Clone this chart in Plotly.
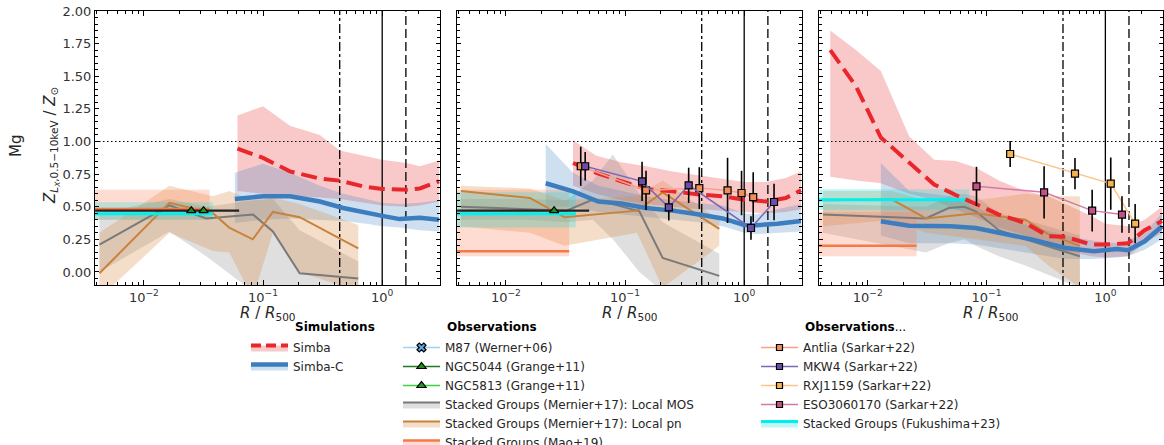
import plotly.graph_objects as go

W, H = 1164, 445

# ---------------- data ----------------
# Simba (median + band), one list per panel
simba_r = [
    [0.061, 0.10, 0.168, 0.30, 0.44, 0.69, 1.0, 1.6, 2.07, 3.0],
    [0.0366, 0.0574, 0.093, 0.150, 0.25, 0.42, 0.66, 1.0, 1.52, 2.23, 3.0],
    [0.00484, 0.008, 0.0129, 0.0223, 0.0362, 0.055, 0.081, 0.127, 0.212, 0.332, 0.46, 0.76, 1.0, 1.55, 2.14, 3.0],
]
simba_med = [
    [0.945, 0.874, 0.771, 0.715, 0.70, 0.656, 0.636, 0.63, 0.64, 0.695],
    [0.835, 0.76, 0.695, 0.636, 0.618, 0.593, 0.58, 0.554, 0.54, 0.567, 0.626],
    [1.70, 1.42, 1.03, 0.835, 0.67, 0.59, 0.524, 0.44, 0.375, 0.273, 0.27, 0.21, 0.21, 0.22, 0.32, 0.39],
]
simba_hi = [
    [1.20, 1.27, 1.12, 1.05, 0.93, 0.89, 0.86, 0.835, 0.81, 0.855],
    [1.01, 0.89, 0.84, 0.81, 0.77, 0.74, 0.71, 0.69, 0.69, 0.72, 0.77],
    [1.85, 1.70, 1.54, 1.04, 0.86, 0.85, 0.80, 0.70, 0.62, 0.58, 0.52, 0.43, 0.37, 0.35, 0.40, 0.50],
]
simba_lo = [
    [0.62, 0.60, 0.58, 0.57, 0.56, 0.53, 0.51, 0.50, 0.51, 0.54],
    [0.66, 0.60, 0.55, 0.52, 0.50, 0.48, 0.47, 0.46, 0.45, 0.46, 0.48],
    [0.73, 0.70, 0.68, 0.60, 0.55, 0.48, 0.42, 0.34, 0.28, 0.21, 0.16, 0.12, 0.11, 0.12, 0.22, 0.30],
]

# Simba-C
simbac_r = [
    [0.058, 0.10, 0.168, 0.30, 0.47, 0.74, 1.0, 1.4, 2.07, 3.0],
    [0.0216, 0.0366, 0.0598, 0.093, 0.15, 0.25, 0.42, 0.66, 1.0, 1.25, 1.9, 3.0],
    [0.0129, 0.0223, 0.05, 0.081, 0.127, 0.24, 0.46, 0.8, 1.25, 1.55, 2.14, 3.0],
]
simbac_med = [
    [0.56, 0.58, 0.58, 0.54, 0.49, 0.45, 0.43, 0.405, 0.415, 0.40],
    [0.68, 0.618, 0.54, 0.524, 0.49, 0.47, 0.44, 0.41, 0.36, 0.358, 0.37, 0.39],
    [0.388, 0.355, 0.35, 0.337, 0.30, 0.25, 0.184, 0.158, 0.176, 0.166, 0.235, 0.35],
]
simbac_hi = [
    [0.76, 0.83, 0.76, 0.66, 0.60, 0.56, 0.53, 0.52, 0.53, 0.55],
    [0.98, 0.76, 0.66, 0.62, 0.58, 0.55, 0.53, 0.51, 0.45, 0.44, 0.48, 0.52],
    [0.835, 0.62, 0.58, 0.50, 0.42, 0.35, 0.28, 0.24, 0.22, 0.24, 0.30, 0.45],
]
simbac_lo = [
    [0.375, 0.40, 0.41, 0.40, 0.39, 0.37, 0.35, 0.34, 0.32, 0.31],
    [0.50, 0.50, 0.46, 0.44, 0.42, 0.40, 0.38, 0.35, 0.30, 0.29, 0.30, 0.31],
    [0.28, 0.22, 0.22, 0.21, 0.18, 0.14, 0.10, 0.10, 0.11, 0.12, 0.17, 0.25],
]

# Stacked Groups (Mernier+17): Local MOS
mos_r = [
    [0.00424, 0.0164, 0.0334, 0.0824, 0.121, 0.203, 0.63],
    [0.0042, 0.0159, 0.0322, 0.0538, 0.079, 0.132, 0.207, 0.618],
    [0.0042, 0.0308, 0.048, 0.065, 0.081, 0.127, 0.212, 0.61],
]
mos_med = [
    [0.21, 0.51, 0.41, 0.44, 0.31, -0.01, -0.05],
    [0.50, 0.48, 0.47, 0.555, 0.52, 0.465, 0.107, -0.03],
    [0.44, 0.41, 0.49, 0.50, 0.465, 0.32, 0.25, 0.12],
]
mos_hi = [
    [0.45, 0.56, 0.50, 0.55, 0.56, 0.32, 0.08],
    [0.56, 0.56, 0.55, 0.70, 0.90, 0.60, 0.38, 0.14],
    [0.52, 0.50, 0.58, 0.60, 0.58, 0.45, 0.40, 0.28],
]
mos_lo = [
    [0.0, 0.31, 0.12, -0.15, -0.15, -0.2, -0.2],
    [0.40, 0.40, 0.38, 0.40, 0.25, 0.0, -0.15, -0.2],
    [0.30, 0.15, 0.22, 0.25, 0.20, 0.12, 0.05, -0.12],
]

# Stacked Groups (Mernier+17): Local pn
pn_r = [
    [0.00424, 0.0164, 0.038, 0.052, 0.082, 0.121, 0.203, 0.63],
    [0.0042, 0.0159, 0.031, 0.126, 0.207, 0.618],
    [0.0042, 0.016, 0.031, 0.081, 0.212, 0.33, 0.61],
]
pn_med = [
    [-0.01, 0.53, 0.45, 0.34, 0.25, 0.46, 0.42, 0.18],
    [0.62, 0.567, 0.42, 0.47, 0.61, 0.33],
    [0.55, 0.555, 0.41, 0.45, 0.40, 0.29, 0.20],
]
pn_hi = [
    [0.30, 0.66, 0.58, 0.62, 0.55, 0.57, 0.52, 0.36],
    [0.66, 0.64, 0.55, 0.58, 0.70, 0.40],
    [0.62, 0.62, 0.55, 0.55, 0.60, 0.58, 0.58],
]
pn_lo = [
    [-0.2, 0.30, 0.16, 0.15, -0.2, 0.30, 0.0, -0.15],
    [0.35, 0.30, 0.20, 0.30, -0.12, 0.20],
    [0.35, 0.40, 0.30, 0.25, 0.20, 0.05, -0.12],
]

# Stacked Groups (Mao+19): constant value over a radial range
mao_r = [[0.0035, 0.0356], [0.0035, 0.034], [0.0035, 0.0258]]
mao_val = [0.483, 0.158, 0.20]
mao_lo = [0.40, 0.12, 0.12]
mao_hi = [0.63, 0.63, 0.46]

# Stacked Groups (Fukushima+23)
fuku_r = [[0.0035, 0.038], [0.0035, 0.0386], [0.0035, 0.0716]]
fuku_val = [0.447, 0.447, 0.554]
fuku_lo = [0.40, 0.34, 0.477]
fuku_hi = [0.535, 0.61, 0.634]

# Grange+11 (panel index, r, value, r_min, r_max)
ngc5044_panel = [0, 1]
ngc5044_r = [0.025, 0.0254]
ngc5044_z = [0.47, 0.47]
ngc5044_rmin = [0.0039, 0.0039]
ngc5044_rmax = [0.063, 0.050]
ngc5813_panel = [0]
ngc5813_r = [0.0317]
ngc5813_z = [0.47]

# Sarkar+22
antlia_r = [0.0425, 0.15, 0.42, 0.725, 0.95, 1.19]
antlia_z = [0.81, 0.625, 0.643, 0.625, 0.605, 0.574]
antlia_err = [0.15, 0.15, 0.16, 0.25, 0.17, 0.19]
mkw4_r = [0.0463, 0.139, 0.233, 0.342, 1.14, 1.78]
mkw4_z = [0.81, 0.694, 0.495, 0.664, 0.337, 0.536]
mkw4_err = [0.11, 0.15, 0.10, 0.135, 0.09, 0.14]
rxj_r = [0.158, 0.555, 1.11, 1.78]
rxj_z = [0.904, 0.754, 0.677, 0.37]
rxj_err = [0.10, 0.12, 0.20, 0.15]
eso_r = [0.0823, 0.305, 0.774, 1.38]
eso_z = [0.656, 0.61, 0.47, 0.44]
eso_err = [0.15, 0.20, 0.16, 0.14]

# reference radii (dash-dot, solid, dashed) and solar level
ref_r = [0.44, 1.0, 1.58]
ref_dash = ["dashdot", "solid", "9px,4px"]
solar_level = 1.0

x_tickvals = [0.01, 0.1, 1.0]
x_ticktext = ["10<sup>\u22122</sup>", "10<sup>\u22121</sup>", "10<sup>0</sup>"]
y_tickvals = [0.0, 0.25, 0.5, 0.75, 1.0, 1.25, 1.5, 1.75, 2.0]

# ---------------- styles ----------------
C_SIMBA, F_SIMBA = "#e8262b", "rgba(232,60,66,0.28)"
C_SIMBAC, F_SIMBAC = "#3b7dbf", "rgba(60,126,191,0.25)"
C_MOS, F_MOS = "#7a7a7a", "rgba(128,128,128,0.25)"
C_PN, F_PN = "#c8823c", "rgba(218,138,62,0.28)"
C_MAO, F_MAO = "#f47a4a", "rgba(250,128,90,0.28)"
C_FUKU, F_FUKU = "#00f0f0", "rgba(0,225,225,0.25)"
FONT = "DejaVu Sans"

panel_px = [(95, 440), (457, 802), (819, 1163)]
top_px, bot_px = 11, 285
XR = [-2.41, 0.485]
YR = [-0.1, 2.0]

fig = go.Figure()


def axn(i):
    return ("x", "y") if i == 0 else (f"x{i+1}", f"y{i+1}")


def band(i, r, lo, hi, fc):
    xa, ya = axn(i)
    fig.add_trace(go.Scatter(x=list(r) + list(r)[::-1], y=list(hi) + list(lo)[::-1],
                             fill="toself", fillcolor=fc, mode="lines", line=dict(width=0),
                             hoverinfo="skip", showlegend=False, xaxis=xa, yaxis=ya))


def line(i, r, y, color, width, dash="solid"):
    xa, ya = axn(i)
    fig.add_trace(go.Scatter(x=r, y=y, mode="lines", line=dict(color=color, width=width, dash=dash),
                             hoverinfo="skip", showlegend=False, xaxis=xa, yaxis=ya))


def points(i, r, y, err, lcolor, mcolor, symbol="square", size=7, errx=None):
    xa, ya = axn(i)
    kw = {}
    if err is not None:
        kw["error_y"] = dict(type="data", array=err, color="black", thickness=1.6, width=0)
    if errx is not None:
        kw["error_x"] = dict(type="data", array=errx[1], arrayminus=errx[0], color="#222222",
                             thickness=2.2, width=0, symmetric=False)
    fig.add_trace(go.Scatter(x=r, y=y, mode="lines+markers",
                             line=dict(color=lcolor, width=1.5),
                             marker=dict(symbol=symbol, size=size, color=mcolor,
                                         line=dict(color="black", width=1.2)),
                             hoverinfo="skip", showlegend=False, xaxis=xa, yaxis=ya, **kw))


for i in range(3):
    xa, ya = axn(i)
    # bands
    band(i, simba_r[i], simba_lo[i], simba_hi[i], F_SIMBA)
    band(i, simbac_r[i], simbac_lo[i], simbac_hi[i], F_SIMBAC)
    band(i, mos_r[i], mos_lo[i], mos_hi[i], F_MOS)
    band(i, pn_r[i], pn_lo[i], pn_hi[i], F_PN)
    band(i, mao_r[i], [mao_lo[i]] * 2, [mao_hi[i]] * 2, F_MAO)
    band(i, fuku_r[i], [fuku_lo[i]] * 2, [fuku_hi[i]] * 2, F_FUKU)
    # reference lines
    for rr, dd in zip(ref_r, ref_dash):
        line(i, [rr, rr], YR, "black", 1.3, dd)
    line(i, [10 ** XR[0], 10 ** XR[1]], [solar_level, solar_level], "black", 1.2, "1.5px,2.5px")
    # observation lines
    line(i, mos_r[i], mos_med[i], C_MOS, 2)
    line(i, pn_r[i], pn_med[i], C_PN, 2)
    line(i, mao_r[i], [mao_val[i]] * 2, C_MAO, 2.5)
    line(i, fuku_r[i], [fuku_val[i]] * 2, C_FUKU, 3)
    # simulations
    line(i, simbac_r[i], simbac_med[i], C_SIMBAC, 4.5)
    line(i, simba_r[i], simba_med[i], C_SIMBA, 4, "16px,7px")

# Grange+11
for k, p in enumerate(ngc5044_panel):
    points(p, [ngc5044_r[k]], [ngc5044_z[k]], None, "#217a21", "#1f8a1f", "triangle-up", 8,
           errx=([ngc5044_r[k] - ngc5044_rmin[k]], [ngc5044_rmax[k] - ngc5044_r[k]]))
for k, p in enumerate(ngc5813_panel):
    points(p, [ngc5813_r[k]], [ngc5813_z[k]], None, "#3fcf3f", "#1f9a1f", "triangle-up", 8)

# Sarkar+22
points(1, antlia_r, antlia_z, antlia_err, "#f6a28a", "#f28e5a")
points(1, mkw4_r, mkw4_z, mkw4_err, "#7b68b5", "#6a4fa8")
points(2, rxj_r, rxj_z, rxj_err, "#fdc48a", "#f5b350")
points(2, eso_r, eso_z, eso_err, "#d47aa6", "#c4508a")


# ---------------- legend entries ----------------
def leg(name, legend, color, width=2, dash="solid", fc=None, symbol=None, mcolor=None, msize=7):
    kw = dict(x=[None], y=[None], name=name, legend=legend, showlegend=True,
              line=dict(color=color, width=width, dash=dash), hoverinfo="skip")
    if fc is not None:
        kw["fill"] = "toself"
        kw["fillcolor"] = fc
    if symbol is not None:
        kw["mode"] = "lines+markers"
        kw["marker"] = dict(symbol=symbol, color=mcolor, size=msize, line=dict(color="black", width=1.2))
    else:
        kw["mode"] = "lines"
    fig.add_trace(go.Scatter(**kw))


leg("Simba", "legend", C_SIMBA, 4, "10px,5px", F_SIMBA)
leg("Simba-C", "legend", C_SIMBAC, 4.5, "solid", F_SIMBAC)
leg("M87 (Werner+06)", "legend2", "#9fd3f5", 1.5, symbol="x", mcolor="#5aa9e6", msize=8)
leg("NGC5044 (Grange+11)", "legend2", "#217a21", 1.5, symbol="triangle-up", mcolor="#1f8a1f", msize=8)
leg("NGC5813 (Grange+11)", "legend2", "#3fcf3f", 1.5, symbol="triangle-up", mcolor="#1f9a1f", msize=8)
leg("Stacked Groups (Mernier+17): Local MOS", "legend2", C_MOS, 2, fc=F_MOS)
leg("Stacked Groups (Mernier+17): Local pn", "legend2", C_PN, 2, fc=F_PN)
leg("Stacked Groups (Mao+19)", "legend2", C_MAO, 2.5, fc=F_MAO)
leg("Antlia (Sarkar+22)", "legend3", "#f6a28a", 1.5, symbol="square", mcolor="#f28e5a", msize=6)
leg("MKW4 (Sarkar+22)", "legend3", "#7b68b5", 1.5, symbol="square", mcolor="#6a4fa8", msize=6)
leg("RXJ1159 (Sarkar+22)", "legend3", "#fdc48a", 1.5, symbol="square", mcolor="#f5b350", msize=6)
leg("ESO3060170 (Sarkar+22)", "legend3", "#d47aa6", 1.5, symbol="square", mcolor="#c4508a", msize=6)
leg("Stacked Groups (Fukushima+23)", "legend3", C_FUKU, 3, fc=F_FUKU)

# ---------------- layout ----------------
minor_x = [m * 10 ** e for e in (-3, -2, -1, 0) for m in range(2, 10)]
layout = dict(
    width=W, height=H,
    margin=dict(l=0, r=0, t=0, b=0, autoexpand=False),
    paper_bgcolor="white", plot_bgcolor="white",
    font=dict(family=FONT, size=12, color="#262626"),
    showlegend=True,
    annotations=[],
)
ydom = [1 - bot_px / H, 1 - top_px / H]
for i in range(3):
    sfx = "" if i == 0 else str(i + 1)
    xa, ya = axn(i)
    layout["xaxis" + sfx] = dict(
        type="log", range=XR, domain=[panel_px[i][0] / W, panel_px[i][1] / W], anchor=ya,
        showline=True, linecolor="black", linewidth=1, mirror="allticks",
        ticks="inside", ticklen=5, tickwidth=1, tickcolor="black",
        tickvals=x_tickvals, ticktext=x_ticktext,
        minor=dict(tickvals=minor_x, ticks="inside", ticklen=3, tickwidth=1, tickcolor="black"),
        showgrid=False, zeroline=False, tickfont=dict(size=13, color="#333333"),
    )
    layout["yaxis" + sfx] = dict(
        range=YR, domain=ydom, anchor=xa,
        showline=True, linecolor="black", linewidth=1, mirror="allticks",
        ticks="inside", ticklen=4, tickwidth=1, tickcolor="black",
        tickvals=y_tickvals, tickformat=".2f", showticklabels=(i == 0),
        minor=dict(dtick=0.05, tick0=0, ticks="inside", ticklen=3, tickwidth=1, tickcolor="black"),
        showgrid=False, zeroline=False, tickfont=dict(size=13, color="#333333"),
    )
    layout["annotations"].append(dict(
        text="<i>R</i> / <i>R</i><sub>500</sub>", xref=xa + " domain", yref="paper",
        x=0.5, y=1 - 313 / H, xanchor="center", yanchor="middle", showarrow=False,
        font=dict(size=15, color="#262626")))

layout["annotations"] += [
    dict(text="Mg", xref="paper", yref="paper", x=16 / W, y=1 - 146 / H, textangle=-90,
         showarrow=False, xanchor="center", yanchor="middle", font=dict(size=15, color="#262626")),
    dict(text="<i>Z</i><sub><i>L<sub>X</sub></i>,0.5\u221210keV</sub> / <i>Z</i><sub>\u2299</sub>",
         xref="paper", yref="paper", x=51 / W, y=1 - 146 / H, textangle=-90,
         showarrow=False, xanchor="center", yanchor="middle", font=dict(size=15, color="#262626")),
    dict(text="<b>Simulations</b>", xref="paper", yref="paper", x=293 / W, y=1 - 327 / H,
         xanchor="left", yanchor="middle", showarrow=False, font=dict(size=12, color="black")),
    dict(text="<b>Observations</b>", xref="paper", yref="paper", x=445 / W, y=1 - 327 / H,
         xanchor="left", yanchor="middle", showarrow=False, font=dict(size=12, color="black")),
    dict(text="<b>Observations</b>...", xref="paper", yref="paper", x=803 / W, y=1 - 327 / H,
         xanchor="left", yanchor="middle", showarrow=False, font=dict(size=12, color="black")),
]

leg_common = dict(yanchor="top", xanchor="left", bgcolor="rgba(0,0,0,0)", borderwidth=0,
                  font=dict(size=12, color="#262626", family=FONT), itemwidth=37,
                  tracegroupgap=0, orientation="v")
layout["legend"] = dict(x=246 / W, y=1 - 333 / H, **leg_common)
layout["legend2"] = dict(x=398 / W, y=1 - 333 / H, **leg_common)
layout["legend3"] = dict(x=756 / W, y=1 - 333 / H, **leg_common)

fig.update_layout(**layout)
fig.write_html("out.html")
